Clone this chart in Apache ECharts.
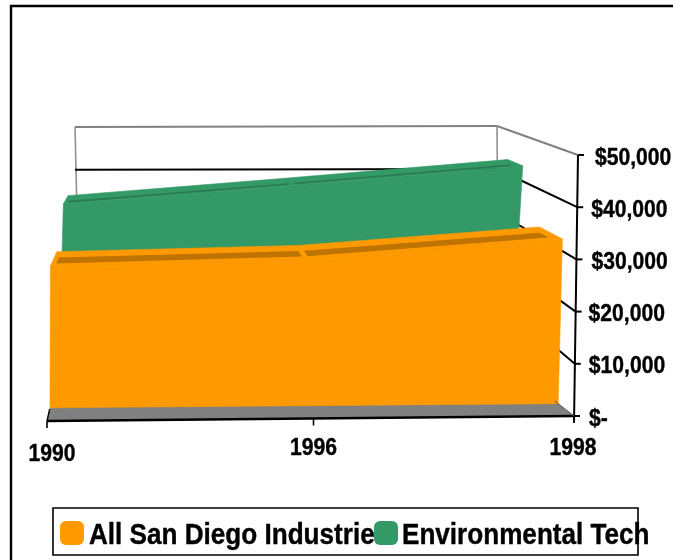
<!DOCTYPE html>
<html>
<head>
<meta charset="utf-8">
<style>html,body{margin:0;padding:0;background:#fff}#chart{width:673px;height:560px}</style>
<script src="https://cdn.jsdelivr.net/npm/echarts@6/dist/echarts.min.js"></script>
</head>
<body>
<div id="chart"></div>
<script>
// Wages by year, San Diego, shown as a 3D area chart.
const years = ['1990', '1996', '1998'];
const allIndustries = [28000, 29000, 32500];
const environmentalTech = [35700, 39500, 43500];
const valueTicks = [0, 10000, 20000, 30000, 40000, 50000];
const valueTickLabels = ['$-', '$10,000', '$20,000', '$30,000', '$40,000', '$50,000'];
const seriesNames = ['All San Diego Industries', 'Environmental Tech'];

const FONT = '"Liberation Sans", Arial, sans-serif';
const ORANGE = '#FF9900', ORANGE_DARK = '#BF7300';
const GREEN = '#339966', GREEN_DARK = '#2A7A52';

// Flat plot rectangle that the cartesian axes scale into.
const GRID = { left: 47, top: 155, width: 527, height: 261 };

// Box corners on screen, front plane and back wall, used to warp the flat plot into depth.
const FRONT = { bl: [47, 421], br: [574, 416], tl: [46, 160], tr: [578, 155] };
const BACK = { bl: [65, 341], br: [478, 341], tl: [75, 127], tr: [497, 126] };

function mix(a, b, t) { return [a[0] + (b[0] - a[0]) * t, a[1] + (b[1] - a[1]) * t]; }

// pt is a pixel from api.coord, depth runs 0 (front) to 1 (back wall).
function warp(pt, depth) {
  const u = (pt[0] - GRID.left) / GRID.width;
  const v = (GRID.top + GRID.height - pt[1]) / GRID.height;
  const f = mix(mix(FRONT.bl, FRONT.br, u), mix(FRONT.tl, FRONT.tr, u), v);
  const b = mix(mix(BACK.bl, BACK.br, u), mix(BACK.tl, BACK.tr, u), v);
  return mix(f, b, depth);
}

function poly(points, fill, stroke) {
  return { type: 'polygon', shape: { points }, style: { fill, stroke: stroke || fill, lineWidth: stroke ? 0.6 : 0 } };
}
function seg(a, b, color, width) {
  return { type: 'line', shape: { x1: a[0], y1: a[1], x2: b[0], y2: b[1] }, style: { stroke: color, lineWidth: width } };
}

// One band of the 3D area: outline between two depths, with the shaded strip along its top.
function areaRender(values, d0, d1, color, stripColor, s0, s1) {
  return function (params, api) {
    if (params.dataIndex !== 0) return null;
    const last = values.length - 1;
    const at = (i, v) => api.coord([i, v]);
    const outline = [];
    for (let i = 0; i <= last; i++) outline.push(warp(at(i, values[i]), d1));
    for (let i = last; i >= 0; i--) outline.push(warp(at(i, values[i]), d0));
    const front = [warp(at(0, 0), d0)];
    for (let i = 0; i <= last; i++) front.push(warp(at(i, values[i]), d0));
    front.push(warp(at(last, 0), d0));
    const children = [poly(outline, color, color), poly(front, color, color)];
    const inset = 5;
    const gap = 3;
    for (let i = 0; i < last; i++) {
      const a = at(i, values[i]), b = at(i + 1, values[i + 1]);
      const slope = (b[1] - a[1]) / (b[0] - a[0]);
      const ax = a[0] + (i === 0 ? inset : gap), bx = b[0] - (i === last - 1 ? inset * 2 : gap);
      const p0 = [ax, a[1] + slope * (ax - a[0])], p1 = [bx, a[1] + slope * (bx - a[0])];
      children.push(poly([warp(p0, s0), warp(p1, s0), warp(p1, s1), warp(p0, s1)], stripColor));
    }
    return { type: 'group', children };
  };
}

// Walls and floor of the box.
function boxRender(params, api) {
  if (params.dataIndex !== 0) return null;
  const c = [];
  const lastX = years.length - 1;
  c.push(poly([warp(api.coord([0, 0]), 0), warp(api.coord([lastX, 0]), 0), warp(api.coord([lastX, 0]), 1), warp(api.coord([0, 0]), 1)], '#808080'));
  const topL = warp(api.coord([0, 50000]), 1), topR = warp(api.coord([lastX, 50000]), 1);
  c.push(seg(topL, topR, '#808080', 2));
  c.push(seg(warp(api.coord([lastX, 50000]), 0), topR, '#808080', 2));
  const wallDrop = warp(api.coord([0, 20000]), 1)[1];
  c.push(seg(topL, [topL[0] + 3, wallDrop], '#909090', 1.6));
  c.push(seg(topR, [topR[0] + 1, wallDrop], '#909090', 1.6));
  valueTicks.forEach(function (v) {
    if (v === 0 || v === 50000) return;
    const a = warp(api.coord([0, v]), 1), b = warp(api.coord([lastX, v]), 1);
    c.push(seg([topL[0], a[1]], [topR[0], b[1]], '#000', 2));
    c.push(seg(warp(api.coord([lastX, v]), 0), [topR[0], b[1]], '#000', 2));
  });
  return { type: 'group', children: c };
}

// Axis lines, ticks and labels in front of the bands.
const yLabelNudge = [15, 14, 13, 15, 14, 17];
const xLabelDrop = [33, 30, 32];
const xLabelShift = [5, 3, -1];
const xTickShift = [0, 3, 0];
function axesRender(params, api) {
  if (params.dataIndex !== 0) return null;
  const c = [];
  const lastX = years.length - 1;
  const o = warp(api.coord([0, 0]), 0), r = warp(api.coord([lastX, 0]), 0), t = warp(api.coord([lastX, 50000]), 0);
  c.push(seg(o, r, '#000', 2.4));
  c.push(seg([r[0], r[1] + 7], t, '#000', 2));
  c.push(seg(o, warp(api.coord([0, 0]), 0.15), '#000', 1.4));
  c.push(seg(r, warp(api.coord([lastX, 0]), 0.2), '#555', 1));
  const text = function (str, x, y, align) {
    return { type: 'text', x, y, scaleX: 0.88, scaleY: 1, style: { text: str, fill: '#000', stroke: '#000', lineWidth: 0.4, fontFamily: FONT, fontWeight: 'bold', fontSize: 24, textAlign: align, textVerticalAlign: 'middle' } };
  };
  valueTicks.forEach(function (v, i) {
    const p = warp(api.coord([lastX, v]), 0);
    c.push(seg(p, [p[0] + 6, p[1]], '#000', 2));
    c.push(text(valueTickLabels[i], p[0] + yLabelNudge[i], p[1] + 3, 'left'));
  });
  years.forEach(function (y, i) {
    const p = warp(api.coord([i, 0]), 0);
    c.push(seg([p[0] + xTickShift[i], p[1]], [p[0] + xTickShift[i], p[1] + 7], '#000', 1.6));
    c.push(text(y, p[0] + xLabelShift[i], p[1] + xLabelDrop[i], 'center'));
  });
  return { type: 'group', children: c };
}

const seedData = years.map(function (y, i) { return [i, 0]; });

function legendText(str, x) {
  return { type: 'text', x, y: 536, scaleX: 0.87, silent: true, z: 0,
    style: { text: str, fill: '#000', stroke: '#000', lineWidth: 0.4, fontFamily: FONT, fontWeight: 'bold', fontSize: 30, textAlign: 'left', textVerticalAlign: 'middle' } };
}

const option = {
  animation: false,
  backgroundColor: '#fff',
  grid: { left: GRID.left, top: GRID.top, width: GRID.width, height: GRID.height },
  xAxis: { type: 'category', data: years, boundaryGap: false, axisLine: { show: false }, axisTick: { show: false }, axisLabel: { show: false }, splitLine: { show: false } },
  yAxis: { type: 'value', min: 0, max: 50000, interval: 10000, axisLine: { show: false }, axisTick: { show: false }, axisLabel: { show: false }, splitLine: { show: false } },
  // The legend draws the swatches; its names are condensed text elements below.
  legend: {
    left: 60, top: 521, width: 610, padding: 0, itemWidth: 24, itemHeight: 24, itemGap: 290,
    icon: 'roundRect',
    data: seriesNames,
    formatter: function () { return ''; },
    z: 5
  },
  graphic: [
    { type: 'rect', shape: { x: 11, y: 6, width: 800, height: 800 }, style: { fill: 'none', stroke: '#000', lineWidth: 2.4 }, silent: true },
    { type: 'rect', shape: { x: 53, y: 508, width: 585, height: 47 }, style: { fill: 'none', stroke: '#000', lineWidth: 1.6 }, silent: true },
    legendText(seriesNames[0], 89),
    legendText(seriesNames[1], 402)
  ],
  series: [
    { type: 'custom', name: 'box', coordinateSystem: 'cartesian2d', z: 1, silent: true, renderItem: boxRender, data: seedData, encode: { x: 0, y: 1 }, clip: false },
    { type: 'custom', name: seriesNames[1], coordinateSystem: 'cartesian2d', z: 2, silent: true, itemStyle: { color: GREEN },
      renderItem: areaRender(environmentalTech, 0.66, 0.84, GREEN, GREEN_DARK, 0.68, 0.72), data: seedData, encode: { x: 0, y: 1 }, clip: false },
    { type: 'custom', name: seriesNames[0], coordinateSystem: 'cartesian2d', z: 3, silent: true, itemStyle: { color: ORANGE },
      renderItem: areaRender(allIndustries, 0.165, 0.43, ORANGE, ORANGE_DARK, 0.21, 0.32), data: seedData, encode: { x: 0, y: 1 }, clip: false },
    { type: 'custom', name: 'axes', coordinateSystem: 'cartesian2d', z: 4, silent: true, renderItem: axesRender, data: seedData, encode: { x: 0, y: 1 }, clip: false }
  ]
};

const chart = echarts.init(document.getElementById('chart'), null, { renderer: 'canvas' });
chart.setOption(option);
</script>
</body>
</html>
